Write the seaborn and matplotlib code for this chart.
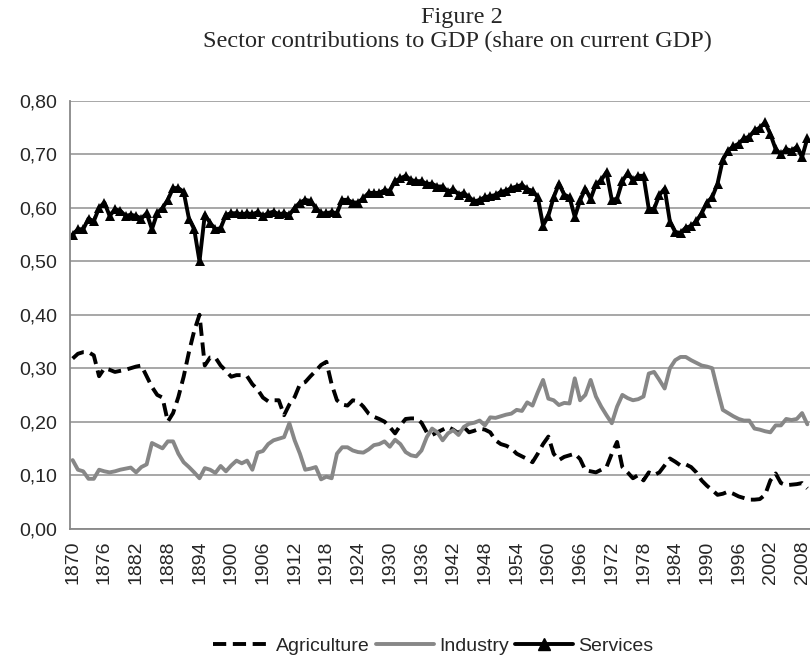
import numpy as np
import pandas as pd
import seaborn as sns
import matplotlib.pyplot as plt
from matplotlib.ticker import FuncFormatter, MultipleLocator
from matplotlib.lines import Line2D

# years 1870..2009
years = list(range(1870, 2010))

agriculture = [
    0.318, 0.327, 0.330, 0.330, 0.324, 0.285, 0.300, 0.297, 0.293, 0.295,  # 1870
    0.297, 0.300, 0.303, 0.305, 0.285, 0.265, 0.250, 0.245, 0.200, 0.216,  # 1880
    0.246, 0.284, 0.330, 0.370, 0.400, 0.305, 0.320, 0.320, 0.305, 0.295,  # 1890
    0.284, 0.287, 0.287, 0.285, 0.270, 0.260, 0.245, 0.238, 0.240, 0.240,  # 1900
    0.212, 0.232, 0.246, 0.270, 0.274, 0.285, 0.295, 0.306, 0.312, 0.270,  # 1910
    0.240, 0.232, 0.230, 0.240, 0.238, 0.228, 0.215, 0.209, 0.205, 0.200,  # 1920
    0.190, 0.178, 0.193, 0.205, 0.206, 0.206, 0.198, 0.180, 0.175, 0.180,  # 1930
    0.185, 0.190, 0.185, 0.178, 0.190, 0.180, 0.183, 0.187, 0.185, 0.180,  # 1940
    0.165, 0.158, 0.155, 0.150, 0.140, 0.135, 0.130, 0.124, 0.140, 0.158,  # 1950
    0.172, 0.140, 0.128, 0.134, 0.137, 0.140, 0.130, 0.109, 0.107, 0.105,  # 1960
    0.110, 0.115, 0.140, 0.162, 0.115, 0.105, 0.094, 0.100, 0.090, 0.105,  # 1970
    0.100, 0.105, 0.118, 0.131, 0.125, 0.118, 0.120, 0.115, 0.105, 0.090,  # 1980
    0.080, 0.072, 0.063, 0.065, 0.069, 0.065, 0.060, 0.057, 0.054, 0.054,  # 1990
    0.055, 0.063, 0.090, 0.103, 0.085, 0.081, 0.082, 0.083, 0.085, 0.075,  # 2000
]

industry = [
    0.128, 0.110, 0.107, 0.093, 0.093, 0.110, 0.107, 0.105, 0.107, 0.110,
    0.112, 0.114, 0.105, 0.115, 0.120, 0.160, 0.155, 0.150, 0.163, 0.163,
    0.140, 0.124, 0.115, 0.105, 0.094, 0.113, 0.110, 0.104, 0.117, 0.107,
    0.118, 0.127, 0.122, 0.127, 0.110, 0.142, 0.145, 0.158, 0.165, 0.168,
    0.171, 0.197, 0.165, 0.140, 0.110, 0.112, 0.115, 0.092, 0.097, 0.094,
    0.140, 0.152, 0.152, 0.146, 0.143, 0.142, 0.148, 0.156, 0.158, 0.163,
    0.153, 0.166, 0.158, 0.143, 0.137, 0.135, 0.146, 0.171, 0.187, 0.180,
    0.165, 0.178, 0.184, 0.175, 0.190, 0.196, 0.198, 0.202, 0.193, 0.208,
    0.207, 0.210, 0.213, 0.215, 0.222, 0.220, 0.236, 0.230, 0.255, 0.278,
    0.243, 0.240, 0.231, 0.235, 0.234, 0.281, 0.240, 0.250, 0.278, 0.247,
    0.228, 0.212, 0.197, 0.228, 0.250, 0.244, 0.240, 0.242, 0.247, 0.290,
    0.293, 0.278, 0.262, 0.300, 0.315, 0.321, 0.321, 0.315, 0.310, 0.305,
    0.303, 0.300, 0.260, 0.222, 0.216, 0.210, 0.205, 0.202, 0.202, 0.187,
    0.185, 0.182, 0.180, 0.193, 0.193, 0.205, 0.203, 0.205, 0.216, 0.195,
]

services = [
    0.550, 0.560, 0.560, 0.580, 0.575, 0.600, 0.610, 0.585, 0.597, 0.595,
    0.585, 0.587, 0.585, 0.580, 0.590, 0.560, 0.590, 0.600, 0.615, 0.637,
    0.637, 0.630, 0.580, 0.560, 0.500, 0.587, 0.572, 0.560, 0.562, 0.587,
    0.590, 0.590, 0.588, 0.590, 0.588, 0.592, 0.585, 0.590, 0.593, 0.588,
    0.590, 0.587, 0.600, 0.610, 0.615, 0.613, 0.600, 0.590, 0.590, 0.592,
    0.590, 0.615, 0.615, 0.610, 0.610, 0.618, 0.628, 0.628, 0.628, 0.633,
    0.632, 0.650, 0.655, 0.660, 0.652, 0.650, 0.650, 0.645, 0.645, 0.640,
    0.640, 0.630, 0.635, 0.625, 0.628, 0.620, 0.612, 0.615, 0.620, 0.622,
    0.624, 0.630, 0.632, 0.637, 0.640, 0.643, 0.635, 0.632, 0.620, 0.567,
    0.585, 0.620, 0.645, 0.625, 0.620, 0.583, 0.614, 0.636, 0.617, 0.644,
    0.652, 0.667, 0.615, 0.617, 0.650, 0.665, 0.652, 0.660, 0.660, 0.598,
    0.598, 0.624, 0.636, 0.574, 0.555, 0.553, 0.563, 0.566, 0.575, 0.590,
    0.610, 0.620, 0.645, 0.690, 0.707, 0.715, 0.720, 0.730, 0.733, 0.745,
    0.750, 0.760, 0.738, 0.710, 0.700, 0.710, 0.707, 0.714, 0.695, 0.730,
]

df = pd.DataFrame({'year': years, 'Agriculture': agriculture,
                   'Industry': industry, 'Services': services})

sns.set_style('white')
plt.rcParams['font.family'] = ['Liberation Sans', 'DejaVu Sans']

fig = plt.figure(figsize=(8.1, 6.62), dpi=100)
ax = fig.add_axes([70 / 810, 1 - 528.5 / 662, 740 / 810, (528.5 - 101) / 662])

dash = (0, (3.4, 1.7))
sns.lineplot(data=df, x='year', y='Agriculture', ax=ax, color='black',
             linewidth=2.8, linestyle=dash)
sns.lineplot(data=df, x='year', y='Industry', ax=ax, color='#878787',
             linewidth=2.8)
sns.lineplot(data=df, x='year', y='Services', ax=ax, color='black',
             linewidth=2.8, marker='^', markersize=7, markeredgewidth=0)

ax.set_xlim(1869.5, 2009.5)
ax.set_ylim(0, 0.8)
ax.yaxis.set_major_locator(MultipleLocator(0.1))
ax.yaxis.set_major_formatter(FuncFormatter(lambda v, p: f'{v:.2f}'.replace('.', ',')))
ax.grid(axis='y', color='#a0a0a0', linewidth=1.3)
ax.set_axisbelow(True)

ax.set_xticks(list(range(1870, 2010, 6)))
ax.set_xticks([y - 0.5 for y in years] + [2009.5], minor=True)
ax.tick_params(axis='x', which='major', length=0, pad=9, labelrotation=90, labelsize=14)
ax.tick_params(axis='x', which='minor', length=4, width=0.8, color='#888888')
ax.tick_params(axis='y', length=5, width=1, color='#888888', labelsize=14, pad=4)
ax.set_xlabel('')
ax.set_ylabel('')

for s in ['top', 'right']:
    ax.spines[s].set_visible(False)
for s in ['left', 'bottom']:
    ax.spines[s].set_color('#888888')
    ax.spines[s].set_linewidth(1.3)

fig.text(462 / 810, 1 - 17 / 662, 'Figure 2', ha='center', va='center',
         family='Liberation Serif', fontsize=17.5)
fig.text(457 / 810, 1 - 41 / 662, 'Sector contributions to GDP (share on current GDP)',
         ha='center', va='center', family='Liberation Serif', fontsize=17.5)

handles = [
    Line2D([], [], color='black', linewidth=2.8, linestyle=dash),
    Line2D([], [], color='#878787', linewidth=2.8),
    Line2D([], [], color='black', linewidth=2.8, marker='^', markersize=8),
]
fig.legend(handles, ['Agriculture', 'Industry', 'Services'], loc='center',
           bbox_to_anchor=(433 / 810, 1 - 646 / 662), ncol=3, frameon=False,
           fontsize=14, handlelength=3.0, handletextpad=0.25, columnspacing=0.3)

fig.savefig('out.png', dpi=100)
